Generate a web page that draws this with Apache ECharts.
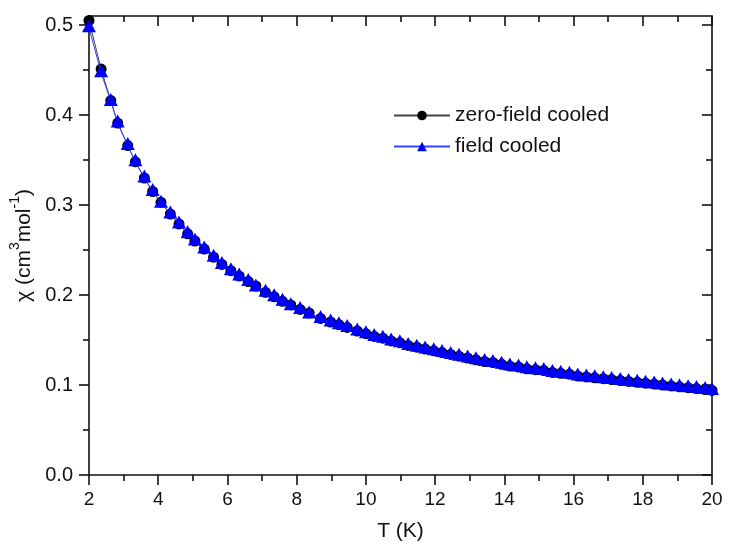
<!DOCTYPE html>
<html>
<head>
<meta charset="utf-8">
<script src="https://cdn.jsdelivr.net/npm/echarts@6/dist/echarts.min.js"></script>
<style>html,body{margin:0;padding:0;background:#fff;}#c{width:729px;height:550px;}</style>
</head>
<body>
<div id="c"></div>
<script>
// Temperature (K)
var temperature = [2.0, 2.35, 2.63, 2.83, 3.12, 3.34, 3.6, 3.84, 4.08, 4.35, 4.6, 4.85, 5.06, 5.33, 5.6, 5.84, 6.1, 6.34, 6.6, 6.82,
  7.1, 7.35, 7.59, 7.83, 8.1, 8.36, 8.69, 8.98, 9.22, 9.46, 9.75, 10.0, 10.24, 10.49, 10.73, 10.98, 11.22, 11.47, 11.71, 11.96,
  12.2, 12.45, 12.69, 12.94, 13.18, 13.43, 13.67, 13.92, 14.16, 14.41, 14.65, 14.9, 15.14, 15.39, 15.63, 15.88, 16.12, 16.37,
  16.61, 16.86, 17.1, 17.35, 17.59, 17.84, 18.08, 18.33, 18.57, 18.82, 19.06, 19.31, 19.55, 19.8, 20.0];
// zero-field cooled chi (cm3 mol-1)
var chiZFC = [0.505, 0.451, 0.416, 0.391, 0.366, 0.348, 0.330, 0.315, 0.303, 0.290, 0.279, 0.268, 0.260, 0.251, 0.242, 0.234, 0.227, 0.221, 0.215, 0.210,
  0.203, 0.198, 0.193, 0.189, 0.184, 0.180, 0.174, 0.170, 0.167, 0.164, 0.160, 0.157, 0.154, 0.152, 0.149, 0.147, 0.144, 0.142, 0.140, 0.138,
  0.136, 0.134, 0.132, 0.130, 0.128, 0.126, 0.125, 0.123, 0.121, 0.120, 0.118, 0.117, 0.116, 0.114, 0.113, 0.112, 0.110, 0.109,
  0.108, 0.107, 0.106, 0.105, 0.104, 0.103, 0.102, 0.101, 0.100, 0.099, 0.098, 0.097, 0.096, 0.095, 0.094];
// field cooled chi (cm3 mol-1)
var chiFC = [0.497, 0.447, 0.415, 0.391, 0.366, 0.348, 0.330, 0.315, 0.302, 0.290, 0.279, 0.268, 0.260, 0.251, 0.242, 0.234, 0.227, 0.221, 0.215, 0.209,
  0.203, 0.198, 0.193, 0.188, 0.184, 0.179, 0.174, 0.170, 0.167, 0.164, 0.160, 0.157, 0.154, 0.152, 0.149, 0.147, 0.144, 0.142, 0.140, 0.138,
  0.136, 0.134, 0.132, 0.130, 0.128, 0.126, 0.125, 0.123, 0.121, 0.120, 0.118, 0.117, 0.116, 0.114, 0.113, 0.112, 0.110, 0.109,
  0.108, 0.107, 0.106, 0.105, 0.104, 0.103, 0.102, 0.101, 0.100, 0.099, 0.098, 0.097, 0.096, 0.095, 0.094];
var yMajorTicks = [0, 0.1, 0.2, 0.3, 0.4, 0.5];
var yMinorTicks = [0.05, 0.15, 0.25, 0.35, 0.45];
var seriesNames = ['zero-field cooled', 'field cooled'];

function pairs(xs, ys) { return xs.map(function (x, i) { return [x, ys[i]]; }); }

var FONT = '"Liberation Sans", Arial, sans-serif';
var lineStyle = { color: '#111', width: 1.6 };
var yBase = { type: 'value', min: 0, max: 0.51, interval: 0.1, splitLine: { show: false } };

var chart = echarts.init(document.getElementById('c'));
chart.setOption({
  animation: false,
  backgroundColor: '#fff',
  grid: { left: 89, right: 17, top: 16, bottom: 75 },
  legend: {
    orient: 'vertical', left: 388, top: 100, itemGap: 10,
    itemWidth: 56, itemHeight: 12,
    textStyle: { fontFamily: FONT, fontSize: 21, color: '#111', padding: [0, 0, 0, 0] },
    data: seriesNames
  },
  xAxis: [{
    type: 'value', min: 2, max: 20, interval: 2, position: 'bottom',
    name: 'T (K)', nameLocation: 'middle', nameGap: 46,
    nameTextStyle: { fontFamily: FONT, fontSize: 21, color: '#111' },
    axisLine: { lineStyle: lineStyle },
    axisTick: { inside: false, length: 10, lineStyle: lineStyle },
    minorTick: { show: true, splitNumber: 2, length: 6, lineStyle: lineStyle },
    axisLabel: { fontFamily: FONT, fontSize: 19, color: '#111', margin: 15 },
    splitLine: { show: false }
  }, {
    type: 'value', min: 2, max: 20, interval: 2, position: 'top',
    axisLine: { onZero: false, lineStyle: lineStyle },
    axisTick: { inside: true, length: 10, lineStyle: lineStyle },
    minorTick: { show: true, splitNumber: 2, length: 6, lineStyle: lineStyle },
    axisLabel: { show: false },
    splitLine: { show: false }
  }],
  yAxis: [Object.assign({}, yBase, {
    position: 'left',
    name: '{a|χ (cm}{s|3}{a|mol}{s|-1}{a|)}', nameLocation: 'middle', nameGap: 45,
    nameTextStyle: {
      rich: {
        a: { fontFamily: FONT, fontSize: 21, color: '#111', lineHeight: 26, verticalAlign: 'bottom' },
        s: { fontFamily: FONT, fontSize: 14, color: '#111', lineHeight: 26, verticalAlign: 'top', padding: [0, 0, 10, 0] }
      }
    },
    axisLine: { onZero: false, lineStyle: lineStyle },
    axisTick: { inside: false, length: 10, lineStyle: lineStyle, customValues: yMajorTicks },
    axisLabel: { fontFamily: FONT, fontSize: 20, color: '#111', margin: 16, customValues: yMajorTicks,
      formatter: function (v) { return v.toFixed(1); } }
  }), Object.assign({}, yBase, {
    position: 'left',
    axisLine: { show: false },
    axisTick: { inside: false, length: 6, lineStyle: lineStyle, customValues: yMinorTicks },
    axisLabel: { show: false }
  }), Object.assign({}, yBase, {
    position: 'right',
    axisLine: { show: true, onZero: false, lineStyle: lineStyle },
    axisTick: { show: true, inside: true, length: 10, lineStyle: lineStyle, customValues: yMajorTicks },
    axisLabel: { show: false }
  }), Object.assign({}, yBase, {
    position: 'right',
    axisLine: { show: false },
    axisTick: { show: true, inside: true, length: 6, lineStyle: lineStyle, customValues: yMinorTicks },
    axisLabel: { show: false }
  })],
  series: [{
    name: seriesNames[0], type: 'line', xAxisIndex: 0, yAxisIndex: 0,
    data: pairs(temperature, chiZFC),
    symbol: 'circle', symbolSize: 11, showAllSymbol: true,
    itemStyle: { color: '#000' },
    lineStyle: { color: '#444', width: 1 },
    z: 2
  }, {
    name: seriesNames[1], type: 'line', xAxisIndex: 0, yAxisIndex: 0,
    data: pairs(temperature, chiFC),
    symbol: 'triangle', symbolSize: [14, 13], symbolOffset: [0, -2], showAllSymbol: true,
    itemStyle: { color: '#0000ff' },
    lineStyle: { color: '#3344ff', width: 1 },
    z: 3
  }]
});
</script>
</body>
</html>
